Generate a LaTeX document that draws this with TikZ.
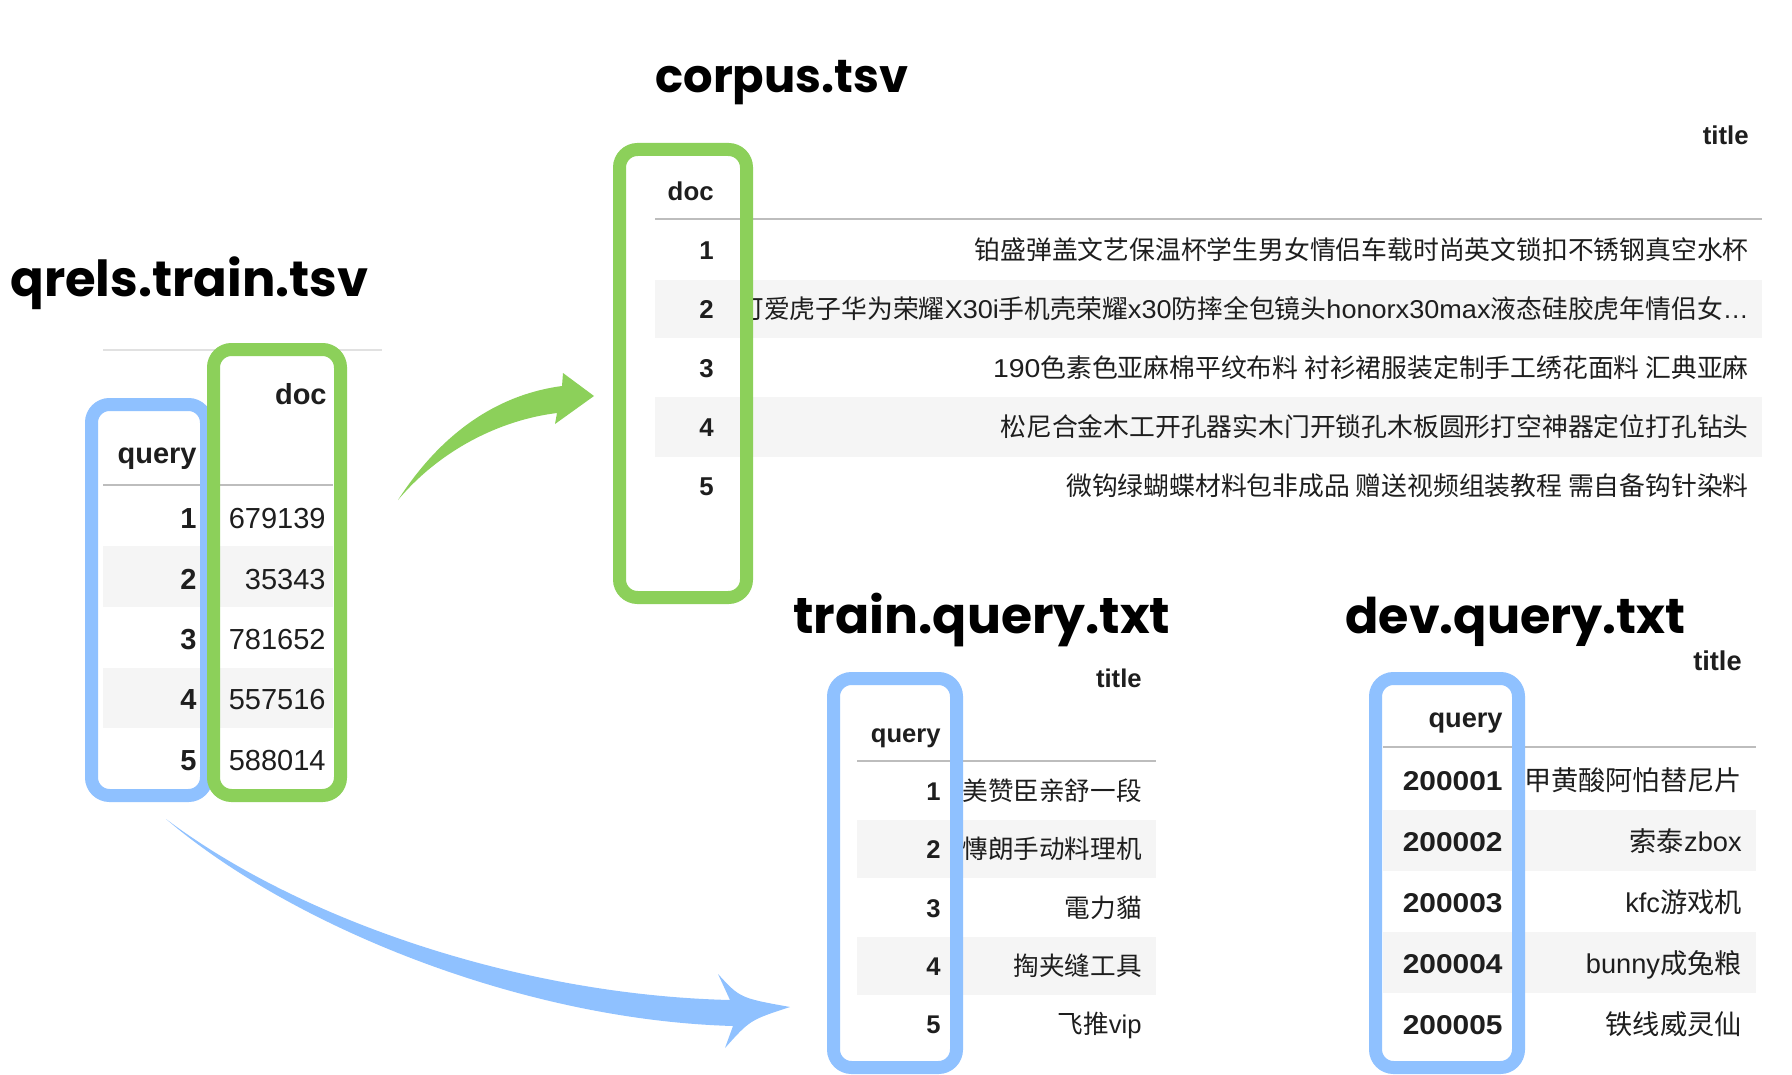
\documentclass[tikz,border=0pt]{standalone}
\usepackage{fontspec}
\usepackage{graphicx}
\setmainfont{Liberation Sans}
\newfontfamily\cjkfont{Noto Sans CJK SC}
\newfontfamily\handfont{Poppins}
\newcommand\zh[1]{{\cjkfont #1}}
\newcommand\latwide[2][1.1]{\scalebox{#1}[1]{#2}}
\newcommand\fsz[1]{\fontsize{#1}{#1}\selectfont}

\definecolor{ink}{RGB}{30,30,30}
\definecolor{colgreen}{RGB}{140,208,90}
\definecolor{colblue}{RGB}{143,193,255}
\definecolor{stripe}{RGB}{245,245,245}
\definecolor{rule}{RGB}{189,189,189}
\definecolor{softrule}{RGB}{225,225,225}

\tikzset{
  filetitle/.style={inner sep=0pt, text=black, font=\handfont\bfseries\fsz{22}, anchor=base west},
  qrtext/.style={inner sep=0pt, text=ink, font=\fsz{14.5}, anchor=base east},
  cotext/.style={inner sep=0pt, text=ink, font=\fsz{12.9}, anchor=base east},
  trtext/.style={inner sep=0pt, text=ink, font=\fsz{12.8}, anchor=base east},
  dvtext/.style={inner sep=0pt, text=ink, font=\fsz{13.6}, anchor=base east},
  headrule/.style={draw=rule, line width=1pt},
  colbox/.style={draw, line width=6.5pt, rounded corners=9pt, inner sep=0pt, outer sep=0pt, fill=none},
}

\begin{document}
\begin{tikzpicture}[x=0.5pt, y=-0.5pt]
\useasboundingbox[fill=white] (0,0) rectangle (1792,1075);

% ---------- file names ----------
\node[filetitle] (t-qrels) at (10,296) {\resizebox{179pt}{!}{qrels.train.tsv}};
\node[filetitle] (t-corpus) at (655,93) {\resizebox{126.5pt}{!}{corpus.tsv}};
\node[filetitle] (t-train) at (793,633) {\resizebox{188.5pt}{!}{train.query.txt}};
\node[filetitle] (t-dev) at (1345,633) {\resizebox{170pt}{!}{dev.query.txt}};

% ---------- qrels.train.tsv table ----------
\fill[stripe] (103,546) rectangle (333,607);
\fill[stripe] (103,668) rectangle (333,728);
\draw[draw=softrule, line width=1pt] (103,350) -- (382,350);
\draw[headrule] (103,484.5) -- (333,484.5);
\node[qrtext] (q-hdoc) at (327,404) {\bfseries doc};
\node[qrtext] (q-hquery) at (197,463) {\bfseries query};
\foreach \i/\b/\v in {1/528/679139, 2/589/35343, 3/649/781652, 4/709/557516, 5/770/588014} {
  \node[qrtext] (q-i\i) at (197,\b) {\bfseries \i};
  \node[qrtext] (q-v\i) at (326,\b) {\v};
}

% ---------- corpus.tsv table ----------
\fill[stripe] (655,280) rectangle (1762,338);
\fill[stripe] (655,397) rectangle (1762,457);
\draw[headrule] (655,219) -- (1762,219);
\node[cotext] (c-htitle) at (1749,145) {\bfseries title};
\node[cotext] (c-hdoc) at (714,201) {\bfseries doc};
\foreach \i/\b in {1/259.5, 2/318.5, 3/377.5, 4/436.5, 5/495.5} {
  \node[cotext] (c-i\i) at (714,\b) {\bfseries \i};
}
\node[cotext] (c-t1) at (1749,259.5) {\zh{铂盛弹盖文艺保温杯学生男女情侣车载时尚英文锁扣不锈钢真空水杯}};
\begin{scope}
  \clip (740,280) rectangle (1792,338);
  \node[cotext] (c-t2) at (1749,318.5) {\zh{可爱虎子华为荣耀}\latwide[1.05]{X30i}\zh{手机壳荣耀}\latwide[1.05]{x30}\zh{防摔全包镜头}\latwide[1.05]{honorx30max}\zh{液态硅胶虎年情侣女}…};
\end{scope}
\node[cotext] (c-t3) at (1749,377.5) {\latwide{190}\zh{色素色亚麻棉平纹布料 衬衫裙服装定制手工绣花面料 汇典亚麻}};
\node[cotext] (c-t4) at (1749,436.5) {\zh{松尼合金木工开孔器实木门开锁孔木板圆形打空神器定位打孔钻头}};
\node[cotext] (c-t5) at (1749,495.5) {\zh{微钩绿蝴蝶材料包非成品 赠送视频组装教程 需自备钩针染料}};

% ---------- train.query.txt table ----------
\fill[stripe] (857,820) rectangle (1156,878);
\fill[stripe] (857,937) rectangle (1156,995);
\draw[headrule] (857,761) -- (1156,761);
\node[trtext] (r-htitle) at (1142,687) {\bfseries title};
\node[trtext] (r-hquery) at (941,742) {\bfseries query};
\foreach \i/\b in {1/800, 2/858, 3/917, 4/975, 5/1033} {
  \node[trtext] (r-i\i) at (941,\b) {\bfseries \i};
}
\node[trtext] (r-t1) at (1142,800) {\zh{美赞臣亲舒一段}};
\node[trtext] (r-t2) at (1142,858) {\zh{慱朗手动料理机}};
\node[trtext] (r-t3) at (1142,917) {\zh{電力貓}};
\node[trtext] (r-t4) at (1142,975) {\zh{掏夹缝工具}};
\node[trtext] (r-t5) at (1142,1033) {\zh{飞推}vip};

% ---------- dev.query.txt table ----------
\fill[stripe] (1383,810) rectangle (1756,871);
\fill[stripe] (1383,932) rectangle (1756,993);
\draw[headrule] (1383,747) -- (1756,747);
\node[dvtext] (d-htitle) at (1742,670) {\bfseries title};
\node[dvtext] (d-hquery) at (1503,727) {\bfseries query};
\foreach \i/\b in {1/790, 2/851, 3/912, 4/973, 5/1034} {
  \node[dvtext] (d-i\i) at (1503,\b) {\bfseries \latwide{20000\i}};
}
\node[dvtext] (d-t1) at (1742,790) {\zh{甲黄酸阿怕替尼片}};
\node[dvtext] (d-t2) at (1742,851) {\zh{索泰}zbox};
\node[dvtext] (d-t3) at (1742,912) {kfc\zh{游戏机}};
\node[dvtext] (d-t4) at (1742,973) {bunny\zh{成兔粮}};
\node[dvtext] (d-t5) at (1742,1034) {\zh{铁线威灵仙}};

% ---------- column highlights ----------
\node[colbox, draw=colblue, minimum width=57.5pt, minimum height=195.5pt] (qrels-query) at (149,600) {};
\node[colbox, draw=colgreen, minimum width=63.5pt, minimum height=223pt] (qrels-doc) at (277,572.5) {};
\node[colbox, draw=colgreen, minimum width=63.5pt, minimum height=224pt] (corpus-doc) at (683,373.5) {};
\node[colbox, draw=colblue, minimum width=61.5pt, minimum height=194.5pt] (train-query) at (895,873) {};
\node[colbox, draw=colblue, minimum width=71.5pt, minimum height=194.5pt] (dev-query) at (1447,873) {};

% ---------- arrows ----------
\coordinate (g-from) at (398,500);
\coordinate (g-to) at (594,396);
\coordinate (b-from) at (166,819);
\coordinate (b-to) at (790,1007);

% doc ids -> corpus: tapered arc with a straight head
\fill[colgreen] (g-from) .. controls (440,435) and (495,395) .. (562,386)
  -- (563,373) -- (g-to) -- (555,424) -- (557,413)
  .. controls (500,420) and (440,450) .. (g-from) -- cycle;

% query ids -> train queries: long tapered sweep with a swept head
\fill[colblue] (b-from) .. controls (300,920) and (520,995) .. (730,1000)
  -- (718,974) .. controls (740,998) .. (b-to)
  .. controls (750,1020) .. (725,1048) -- (733,1026)
  .. controls (520,1020) and (290,925) .. (b-from) -- cycle;
\end{tikzpicture}
\end{document}
